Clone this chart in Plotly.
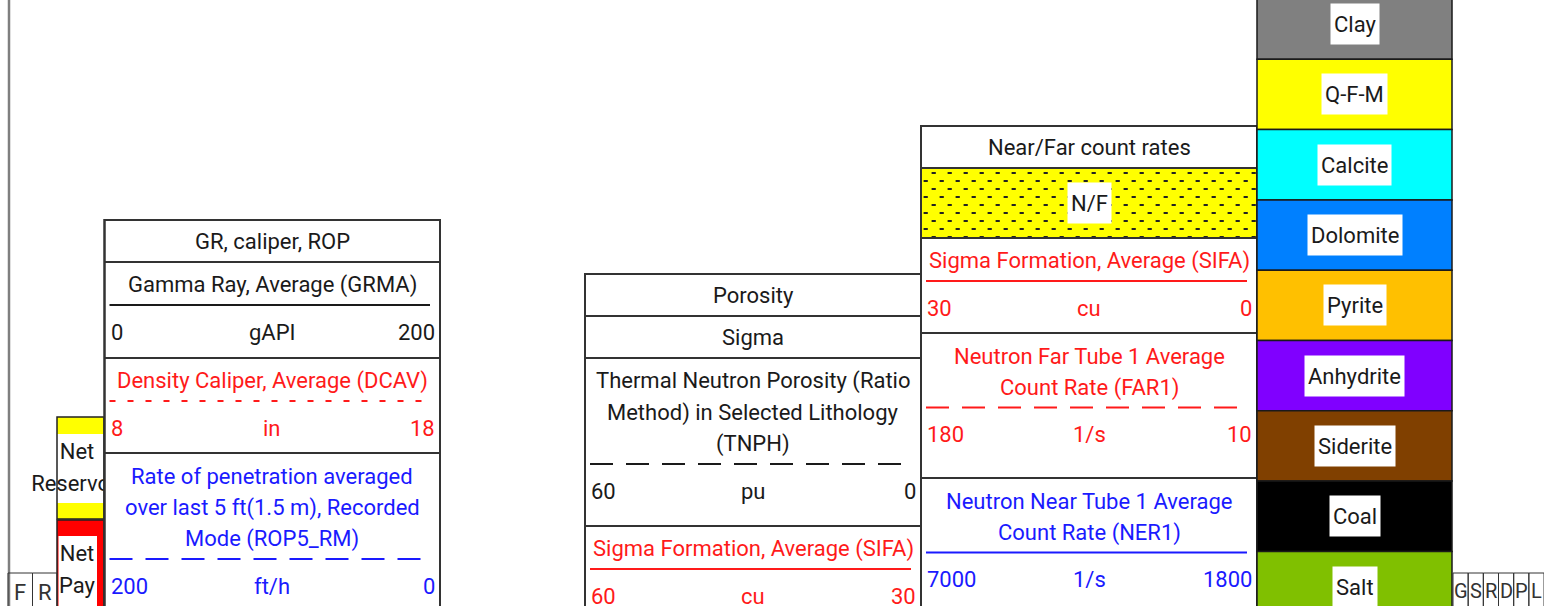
import plotly.graph_objects as go
import numpy as np

# ---------------- data ----------------
zone_names = ["Net<br>Reservoir", "Net<br>Pay"]
flags_left = ["F", "R"]
flags_right = ["G", "S", "R", "D", "P", "L"]

gr_title = "GR, caliper, ROP"
gr_names = ["Gamma Ray, Average (GRMA)",
            "Density Caliper, Average (DCAV)",
            "Rate of penetration averaged<br>over last 5 ft(1.5 m), Recorded<br>Mode (ROP5_RM)"]
gr_left = ["0", "8", "200"]
gr_right = ["200", "18", "0"]
gr_units = ["gAPI", "in", "ft/h"]

por_title = "Porosity"
por_group = "Sigma"
por_names = ["Thermal Neutron Porosity (Ratio<br>Method) in Selected Lithology<br>(TNPH)",
             "Sigma Formation, Average (SIFA)"]
por_left = ["60", "60"]
por_right = ["0", "30"]
por_units = ["pu", "cu"]

nf_title = "Near/Far count rates"
nf_fill_label = "N/F"
nf_names = ["Sigma Formation, Average (SIFA)",
            "Neutron Far Tube 1 Average<br>Count Rate (FAR1)",
            "Neutron Near Tube 1 Average<br>Count Rate (NER1)"]
nf_left = ["30", "180", "7000"]
nf_right = ["0", "10", "1800"]
nf_units = ["cu", "1/s", "1/s"]

lith_names = ["Clay", "Q-F-M", "Calcite", "Dolomite", "Pyrite",
              "Anhydrite", "Siderite", "Coal", "Salt"]

# ---------------- styles ----------------
BLACK = "#1a1a1a"
RED = "#ff1a1a"
BLUE = "#1a1aff"
FONT = "Roboto"
FS = 22

gr_colors = [BLACK, RED, BLUE]
gr_dash = ["solid", "6px,12px", "23px,13px"]
por_colors = [BLACK, RED]
por_dash = ["23px,13px", "solid"]
nf_colors = [RED, RED, BLUE]
nf_dash = ["solid", "23px,13px", "solid"]
lith_colors = ["#808080", "#ffff00", "#00ffff", "#0080ff", "#ffc000",
               "#8000ff", "#804000", "#000000", "#80c000"]

W, H = 1544, 606
shapes = []
annots = []


def rect(x0, y0, x1, y1, color="#333333", lw=2, fill="rgba(0,0,0,0)", layer="above"):
    shapes.append(dict(type="rect", xref="x", yref="y", x0=x0, x1=x1, y0=y0, y1=y1,
                       line=dict(color=color, width=lw), fillcolor=fill, layer=layer))


def hline(x0, x1, y, color="#333333", lw=2, dash="solid", layer="above"):
    shapes.append(dict(type="line", xref="x", yref="y", x0=x0, x1=x1, y0=y, y1=y,
                       line=dict(color=color, width=lw, dash=dash), layer=layer))


def vline(x, y0, y1, color="#333333", lw=2, layer="above"):
    shapes.append(dict(type="line", xref="x", yref="y", x0=x, x1=x, y0=y0, y1=y1,
                       line=dict(color=color, width=lw), layer=layer))


def text(x, y, s, color=BLACK, size=FS, xanchor="center", **kw):
    annots.append(dict(x=x, y=y, xref="x", yref="y", text=s, showarrow=False,
                       xanchor=xanchor, yanchor="middle",
                       font=dict(family=FONT, size=size, color=color), **kw))


LINE_H = 31.5


def track(x0, x1, top, title, group, fill_label, names, lefts, rights, units,
          colors, dashes, heights, bg=False):
    if bg:
        rect(x0, top, x1, H + 10, fill="white")
    rect(x0, top, x1, H + 10)
    cx = (x0 + x1) / 2
    text(cx, top + 21, title)
    y = top + 42
    hline(x0, x1, y)
    if group:
        text(cx, y + 21, group)
        y += 42
        hline(x0, x1, y)
    if fill_label:
        rect(x0, y, x1, y + 70, fill="#ffff00", layer="below", lw=0)
        xs, ys = [], []
        for k, yy in enumerate(np.arange(y + 5, y + 71, 8)):
            start = x0 + 12.7 if k % 2 == 0 else x0 + 4.7
            for xx in np.arange(start, x1 - 2, 16):
                xs.append(xx)
                ys.append(yy)
        fig.add_trace(go.Scatter(x=xs, y=ys, mode="markers", hoverinfo="skip",
                                 marker=dict(symbol="line-ew", size=3, color="#222222",
                                             line=dict(width=2, color="#222222"))))
        text(cx, y + 35, fill_label, bgcolor="white", width=41, height=38)
        y += 70
        hline(x0, x1, y)
    for i, nm in enumerate(names):
        lines = nm.split("<br>")
        for j, ln in enumerate(lines):
            text(cx, y + 23 + LINE_H * j, ln, color=colors[i])
        ly = y + 23 + LINE_H * (len(lines) - 1) + 20
        hline(x0 + 5, x1 - 10, ly, color=colors[i], lw=2, dash=dashes[i])
        sy = ly + 27
        text(x0 + 4, sy, lefts[i], color=colors[i], xanchor="left")
        text(cx, sy, units[i], color=colors[i])
        text(x1 - 3, sy, rights[i], color=colors[i], xanchor="right")
        if heights[i] is not None:
            y += heights[i]
            hline(x0, x1, y)


fig = go.Figure()

# left gray line
vline(9, -5, H + 5, color="#7f7f7f", lw=2.5)

# flags left
fl_x = [8, 32.5, 57]
for i, f in enumerate(flags_left):
    rect(fl_x[i], 573, fl_x[i + 1], H + 10, lw=1)
    text((fl_x[i] + fl_x[i + 1]) / 2, 592, f, color="#333333", size=22)

# zone boxes (net reservoir / net pay)
rect(57, 417, 104, 434, lw=0, fill="#ffff00", layer="below")
rect(57, 503, 104, 519, lw=0, fill="#ffff00", layer="below")
rect(57, 417, 104, 519, lw=1.5, color="#222222", layer="below")
rect(57, 520, 104, H + 10, lw=0, fill="#ff0000", layer="below")
rect(58.5, 536, 97, H + 10, lw=0, fill="white", layer="below")
rect(57, 520, 104, H + 10, lw=1.5, color="#222222", layer="below")
zx, zy, zt = [], [], []
zone_tops = [453, 555]
for i, z in enumerate(zone_names):
    for j, ln in enumerate(z.split("<br>")):
        zx.append(77)
        zy.append(zone_tops[i] + 32 * j)
        zt.append(ln)
fig.add_trace(go.Scatter(x=zx, y=zy, text=zt, mode="text", hoverinfo="skip",
                         textfont=dict(family=FONT, size=FS, color=BLACK),
                         textposition="middle center"))

# tracks
track(104.5, 440, 220, gr_title, None, None, gr_names, gr_left, gr_right, gr_units,
      gr_colors, gr_dash, [96, 95, None], bg=True)
track(585, 921, 274, por_title, por_group, None, por_names, por_left, por_right, por_units,
      por_colors, por_dash, [168, None])
track(921, 1257, 126, nf_title, None, nf_fill_label, nf_names, nf_left, nf_right, nf_units,
      nf_colors, nf_dash, [95, 145, None])

# lithology legend column
lx0, lx1 = 1257, 1452
ltop, lh = -11, 70.3
for i, nm in enumerate(lith_names):
    y0 = ltop + lh * i
    rect(lx0, y0, lx1, y0 + lh, color="#1a1a1a", lw=1.5, fill=lith_colors[i])
    text((lx0 + lx1) / 2, y0 + lh / 2, nm, bgcolor="white", borderpad=3, height=34)

# flags right
fr_x0, fr_w = 1453, 15.17
for i, f in enumerate(flags_right):
    rect(fr_x0 + fr_w * i, 573, fr_x0 + fr_w * (i + 1), H + 10, lw=1)
    text(fr_x0 + fr_w * (i + 0.5), 591, f, color="#333333", size=20)

fig.update_layout(
    width=W, height=H, margin=dict(l=0, r=0, t=0, b=0),
    paper_bgcolor="white", plot_bgcolor="white", showlegend=False,
    xaxis=dict(range=[0, W], visible=False, fixedrange=True),
    yaxis=dict(range=[H, 0], visible=False, fixedrange=True),
    shapes=shapes, annotations=annots,
)
fig.write_html("out.html", config={"displayModeBar": False},
               post_script="document.body.style.margin='0';document.body.style.overflow='hidden';")
